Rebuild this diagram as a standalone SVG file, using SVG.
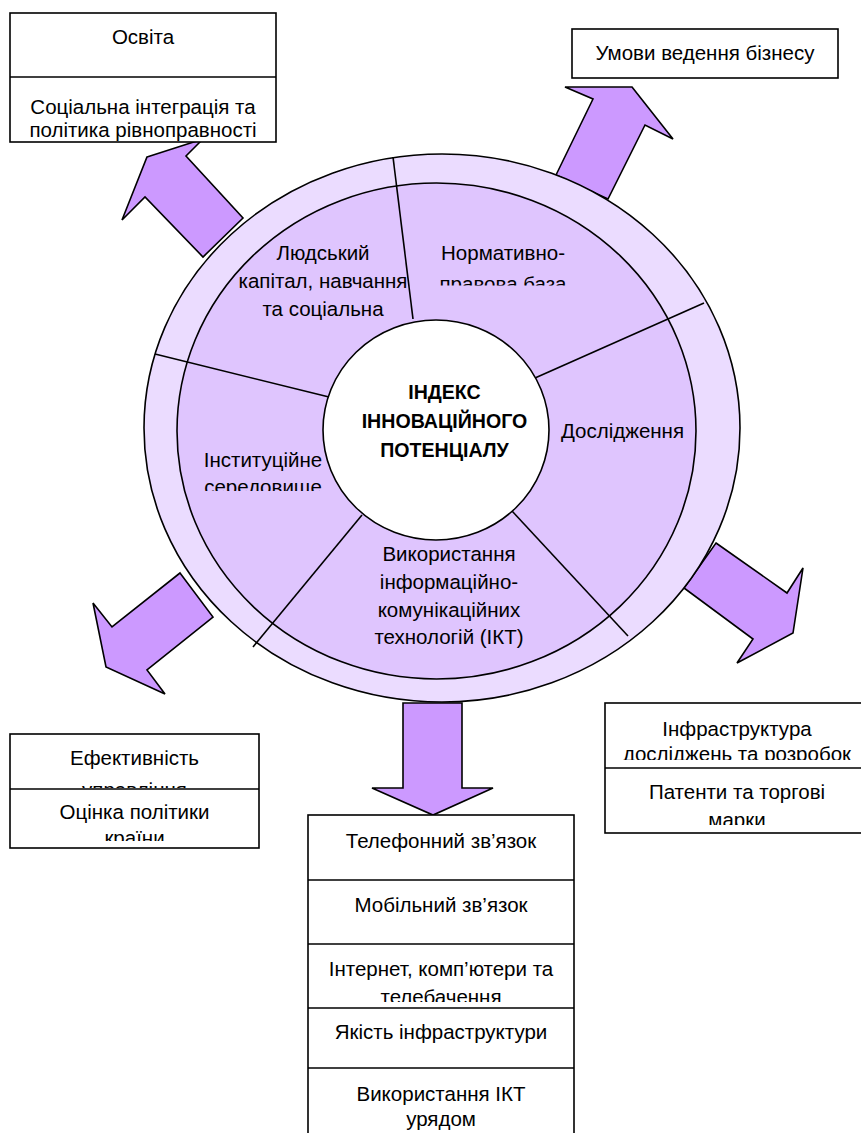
<svg xmlns="http://www.w3.org/2000/svg" width="861" height="1133" viewBox="0 0 861 1133">
<style>
.t{font-family:"Liberation Sans",Arial,sans-serif;font-size:20.5px;fill:#000;text-anchor:middle}
.b{font-weight:bold;font-size:19.6px}
.box{fill:#fff;stroke:#000;stroke-width:1.6}
.div{stroke:#000;stroke-width:1.6;fill:none}
.arr{fill:#CC99FF;stroke:#000;stroke-width:1.6;stroke-linejoin:miter}
.ring{stroke:#000;stroke-width:1.6}
</style>
<defs>
<clipPath id="cTL"><rect x="10" y="77" width="266" height="64"/></clipPath>
<clipPath id="cBL1"><rect x="10" y="734" width="249" height="54"/></clipPath>
<clipPath id="cBL2"><rect x="10" y="789" width="249" height="52"/></clipPath>
<clipPath id="cBR1"><rect x="605" y="703" width="260" height="57"/></clipPath>
<clipPath id="cBR2"><rect x="605" y="768" width="260" height="57"/></clipPath>
<clipPath id="cS3"><rect x="308" y="944" width="266" height="58"/></clipPath>
<clipPath id="cNorm"><rect x="400" y="230" width="220" height="55.5"/></clipPath>
<clipPath id="cInst"><rect x="180" y="440" width="160" height="51"/></clipPath>
</defs>

<g id="connectors">
<polygon class="arr" points="147,157 203,139 186,156 243,218 203,257 145,197 122,220"/>
<polygon class="arr" points="632,87 673,139 645,125 608,199 556,175 593,99 565,87"/>
<polygon class="arr" points="180,573 213,617 147,670 165,694 106,667 93,603 112,627"/>
<polygon class="arr" points="716,543 787,593 803,568 793,633 737,663 753,639 684,588"/>
<polygon class="arr" points="403,703 462,703 462,788 493,788 433,815 372,788 403,788"/>
</g>

<g id="wheel">
<ellipse class="ring" cx="442" cy="428" rx="298" ry="274" fill="#EBDCFF"/>
<ellipse class="ring" cx="436.5" cy="431" rx="259.5" ry="248" fill="#DFC5FE"/>
<line class="div" x1="393" y1="157" x2="413" y2="319"/>
<line class="div" x1="704" y1="303" x2="535" y2="378"/>
<line class="div" x1="628" y1="636" x2="512" y2="511"/>
<line class="div" x1="253" y1="647" x2="362" y2="515"/>
<line class="div" x1="155" y1="354" x2="329" y2="397"/>
</g>

<g id="seg-human">
<text class="t" x="323" y="260">Людський</text>
<text class="t" x="323" y="287.5">капітал, навчання</text>
<text class="t" x="323" y="315.5">та соціальна</text>
</g>
<g id="seg-norm" clip-path="url(#cNorm)">
<text class="t" x="503" y="260">Нормативно-</text>
<text class="t" x="503" y="291">правова база</text>
</g>
<g id="seg-research">
<text class="t" x="622.5" y="438">Дослідження</text>
</g>
<g id="seg-inst" clip-path="url(#cInst)">
<text class="t" x="263" y="467">Інституційне</text>
<text class="t" x="263" y="494">середовище</text>
</g>
<g id="seg-ict">
<text class="t" x="449" y="561">Використання</text>
<text class="t" x="449" y="588.5">інформаційно-</text>
<text class="t" x="449" y="616.5">комунікаційних</text>
<text class="t" x="449" y="644">технологій (ІКТ)</text>
</g>

<g id="center">
<ellipse class="ring" cx="436" cy="430" rx="113" ry="110" fill="#fff"/>
<text class="t b" x="444.5" y="399">ІНДЕКС</text>
<text class="t b" x="444.5" y="428">ІННОВАЦІЙНОГО</text>
<text class="t b" x="444.5" y="457">ПОТЕНЦІАЛУ</text>
</g>

<g id="box-education">
<rect class="box" x="10" y="13" width="266" height="129"/>
<line class="div" x1="10" y1="77" x2="276" y2="77"/>
<text class="t" x="143" y="44">Освіта</text>
<g clip-path="url(#cTL)">
<text class="t" x="143" y="114">Соціальна інтеграція та</text>
<text class="t" x="143" y="137">політика рівноправності</text>
</g>
</g>

<g id="box-business">
<rect class="box" x="572" y="29" width="266" height="49"/>
<text class="t" x="705" y="60">Умови ведення бізнесу</text>
</g>

<g id="box-governance">
<rect class="box" x="10" y="734" width="249" height="114"/>
<line class="div" x1="10" y1="789" x2="259" y2="789"/>
<g clip-path="url(#cBL1)">
<text class="t" x="134.5" y="765">Ефективність</text>
<text class="t" x="134.5" y="797">управління</text>
</g>
<g clip-path="url(#cBL2)">
<text class="t" x="134.5" y="819">Оцінка політики</text>
<text class="t" x="134.5" y="845">країни</text>
</g>
</g>

<g id="box-rd">
<rect class="box" x="605" y="703" width="264" height="130"/>
<line class="div" x1="605" y1="768" x2="869" y2="768"/>
<g clip-path="url(#cBR1)">
<text class="t" x="737" y="735.5">Інфраструктура</text>
<text class="t" x="737" y="761">досліджень та розробок</text>
</g>
<g clip-path="url(#cBR2)">
<text class="t" x="737" y="799">Патенти та торгові</text>
<text class="t" x="737" y="827">марки</text>
</g>
</g>

<g id="box-ict">
<rect class="box" x="308" y="815" width="266" height="330"/>
<line class="div" x1="308" y1="880" x2="574" y2="880"/>
<line class="div" x1="308" y1="944" x2="574" y2="944"/>
<line class="div" x1="308" y1="1008" x2="574" y2="1008"/>
<line class="div" x1="308" y1="1068" x2="574" y2="1068"/>
<text class="t" x="441" y="847.5">Телефонний зв’язок</text>
<text class="t" x="441" y="911.5">Мобільний зв’язок</text>
<g clip-path="url(#cS3)">
<text class="t" x="441" y="976">Інтернет, комп’ютери та</text>
<text class="t" x="441" y="1003.5">телебачення</text>
</g>
<text class="t" x="441" y="1039">Якість інфраструктури</text>
<text class="t" x="441" y="1100.5">Використання ІКТ</text>
<text class="t" x="441" y="1126">урядом</text>
</g>
</svg>
